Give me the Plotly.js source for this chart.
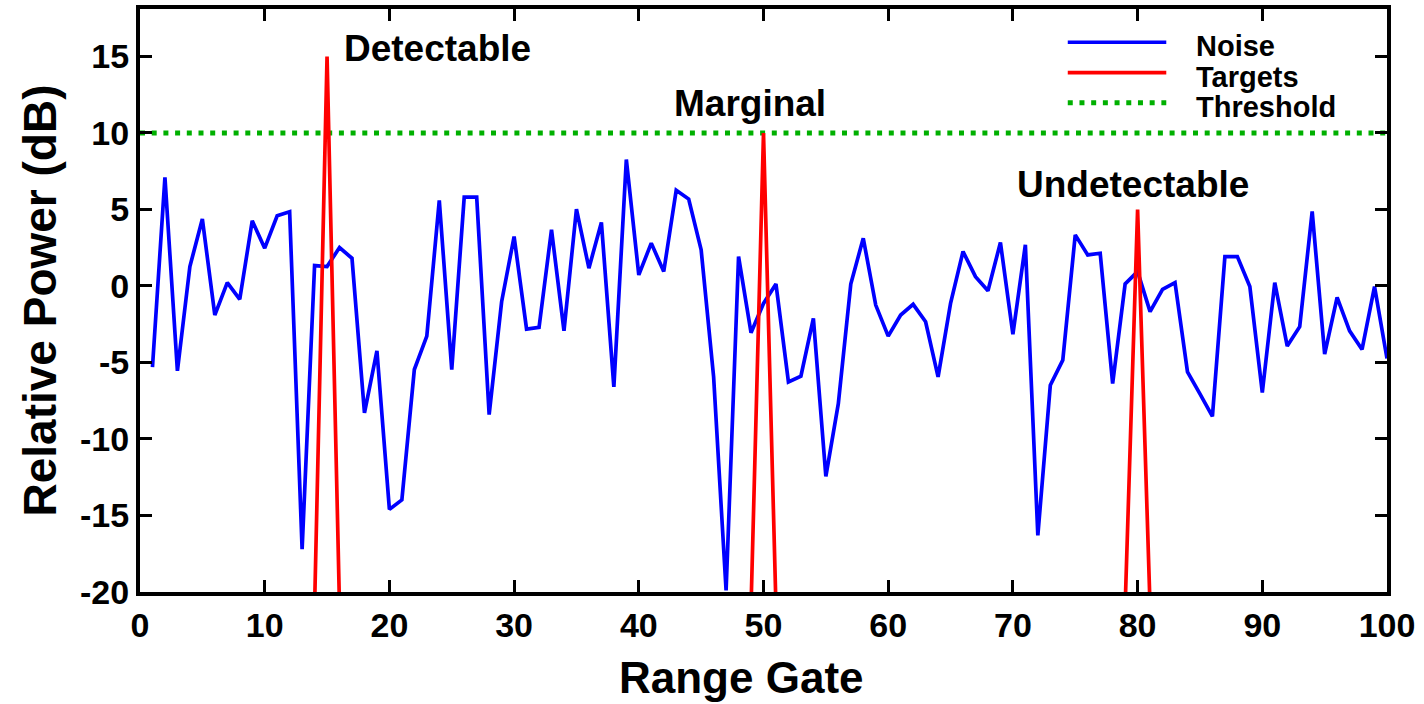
<!DOCTYPE html>
<html>
<head>
<meta charset="utf-8">
<script src="https://cdn.plot.ly/plotly-3.0.1.min.js"></script>
<style>
  html, body { margin: 0; padding: 0; background: #ffffff; }
  #chart { width: 1424px; height: 704px; }
</style>
</head>
<body>
<div id="chart"></div>
<script>
// ---- Data ----
const rangeGates = Array.from({length: 100}, (_, i) => i + 1);
const noisePower = [
  -5.3, 7.1, -5.55, 1.27, 4.37, -1.9, 0.22, -0.87, 4.26, 2.47,
  4.59, 4.85, -17.2, 1.33, 1.27, 2.51, 1.81, -8.3, -4.24, -14.6,
  -13.98, -5.46, -3.28, 5.59, -5.46, 5.81, 5.81, -8.41, -1.03, 3.23,
  -2.82, -2.71, 3.67, -2.93, 5.02, 1.16, 4.15, -6.6, 8.26, 0.72,
  2.8, 0.94, 6.25, 5.68, 2.36, -5.94, -19.9, 1.92, -3.06, -1.14,
  0.13, -6.27, -5.9, -2.12, -12.45, -7.69, 0.13, 3.12, -1.25, -3.28,
  -1.9, -1.2, -2.34, -5.94, -1.14, 2.25, 0.61, -0.31, 2.84, -3.15,
  2.69, -16.3, -6.49, -4.85, 3.34, 2.03, 2.14, -6.38, 0.13, 0.94,
  -1.68, -0.22, 0.22, -5.61, -7.05, -8.52, 1.92, 1.92, -0.04, -6.97,
  0.22, -3.93, -2.66, 4.87, -4.46, -0.74, -2.93, -4.15, -0.04, -4.74
];
const targetGates = [15, 50, 80];
const targetPeaks = [15, 10, 5];
const targetFloor = -21;
const targetLabels = ["Detectable", "Marginal", "Undetectable"];
const targetLabelX = [16.2, 48.9, 79.6];
const targetLabelY = [15.5, 11.9, 6.6];
const thresholdGates = [0, 100];
const thresholdLevel = [10, 10];
const xTicks = [0, 10, 20, 30, 40, 50, 60, 70, 80, 90, 100];
const yTicks = [-20, -15, -10, -5, 0, 5, 10, 15];
const legendNames = ["Noise", "Targets", "Threshold"];
const xTitle = "Range Gate";
const yTitle = "Relative Power (dB)";

// ---- Build target spikes (each spike: gate-1, gate, gate+1) ----
const tx = [], ty = [];
targetGates.forEach((g, i) => {
  tx.push(g - 1, g, g + 1, null);
  ty.push(targetFloor, targetPeaks[i], targetFloor, null);
});

const BLUE = '#0000ff', RED = '#ff0000', GREEN = '#00b000';
const FONT = 'Liberation Sans, Arial, sans-serif';
const DOTS = '5px,6.7px';

const traces = [
  { x: thresholdGates, y: thresholdLevel, type: 'scatter', mode: 'lines',
    line: {color: GREEN, width: 5, dash: DOTS}, name: legendNames[2], showlegend: false },
  { x: rangeGates, y: noisePower, type: 'scatter', mode: 'lines',
    line: {color: BLUE, width: 3.7}, name: legendNames[0], showlegend: false },
  { x: tx, y: ty, type: 'scatter', mode: 'lines', connectgaps: false,
    line: {color: RED, width: 3.7}, name: legendNames[1], showlegend: false }
];

// Manual legend (long line samples like the reference)
const legColors = [BLUE, RED, GREEN];
const legDash = ['solid', 'solid', DOTS];
const legWidth = [3.7, 3.7, 5];
const legY = [0.943, 0.891, 0.839];
const legTextY = [0.936, 0.884, 0.832];
const shapes = legendNames.map((n, i) => ({
  type: 'line', xref: 'paper', yref: 'paper', x0: 0.744, x1: 0.823, y0: legY[i], y1: legY[i],
  line: {color: legColors[i], width: legWidth[i], dash: legDash[i]}, layer: 'above'
}));
const annotations = legendNames.map((n, i) => ({
  xref: 'paper', yref: 'paper', x: 0.845, y: legTextY[i], xanchor: 'left', yanchor: 'middle',
  text: n, showarrow: false, font: {family: FONT, size: 29, color: '#000', weight: 700}
}));
targetLabels.forEach((t, i) => {
  annotations.push({
    x: targetLabelX[i], y: targetLabelY[i], xref: 'x', yref: 'y',
    xanchor: i === 0 ? 'left' : 'center', yanchor: 'middle', text: t, showarrow: false,
    font: {family: FONT, size: 37, color: '#000', weight: 700}
  });
});
// x-axis title (slightly left of centre, as in the reference)
annotations.push({
  xref: 'paper', yref: 'paper', x: 0.482, y: -0.147, xanchor: 'center', yanchor: 'middle',
  text: xTitle, showarrow: false, font: {family: FONT, size: 44, color: '#000', weight: 700}
});

const layout = {
  width: 1424, height: 704,
  margin: {l: 140, r: 37, t: 9, b: 112, pad: 0},
  paper_bgcolor: '#ffffff', plot_bgcolor: '#ffffff',
  showlegend: false,
  font: {family: FONT, color: '#000'},
  xaxis: {
    range: [0, 100], tickvals: xTicks, ticktext: xTicks.map(String),
    ticks: 'inside', ticklen: 12, tickwidth: 3, tickcolor: '#000',
    showline: true, linewidth: 4, linecolor: '#000', mirror: 'ticks',
    showgrid: false, zeroline: false,
    tickfont: {family: FONT, size: 34, color: '#000', weight: 700},
    automargin: false
  },
  yaxis: {
    range: [-20, 18.1], tickvals: yTicks, ticktext: yTicks.map(String),
    ticks: 'inside', ticklen: 12, tickwidth: 3, tickcolor: '#000',
    showline: true, linewidth: 4, linecolor: '#000', mirror: 'ticks',
    showgrid: false, zeroline: false,
    tickfont: {family: FONT, size: 34, color: '#000', weight: 700},
    title: {text: yTitle, font: {family: FONT, size: 46, color: '#000', weight: 700}, standoff: 10},
    automargin: false
  },
  shapes: shapes,
  annotations: annotations
};

Plotly.newPlot('chart', traces, layout, {displayModeBar: false, staticPlot: true});
</script>
</body>
</html>
